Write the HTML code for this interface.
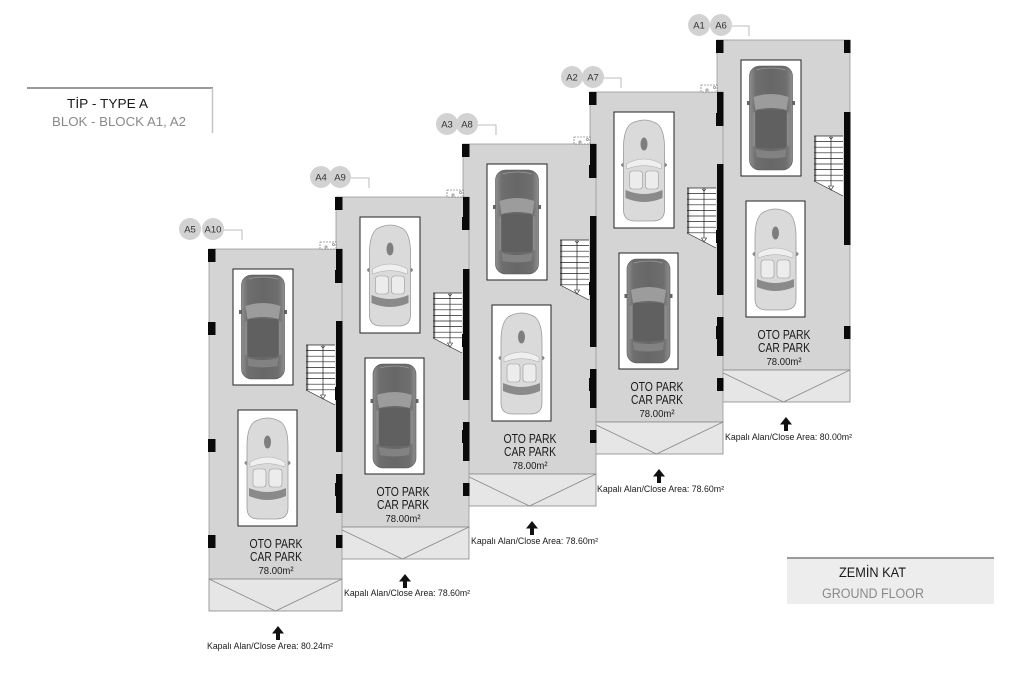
<!DOCTYPE html>
<html>
<head>
<meta charset="utf-8">
<style>
html,body{margin:0;padding:0;background:#fff;}
body{width:1024px;height:684px;overflow:hidden;}
svg{display:block;font-family:"Liberation Sans","DejaVu Sans",sans-serif;}
</style>
</head>
<body>
<svg width="1024" height="684" viewBox="0 0 1024 684" xmlns="http://www.w3.org/2000/svg">
<defs>
  <linearGradient id="sg" x1="0" x2="1" y1="0" y2="0">
    <stop offset="0" stop-color="#8e8e8e"/>
    <stop offset="0.15" stop-color="#6e6e6e"/>
    <stop offset="0.5" stop-color="#676767"/>
    <stop offset="0.85" stop-color="#6e6e6e"/>
    <stop offset="1" stop-color="#8e8e8e"/>
  </linearGradient>
  <g id="sedan">
    <rect x="-1.5" y="35" width="3" height="4" fill="#666"/>
    <rect x="43.5" y="35" width="3" height="4" fill="#666"/>
    <rect x="1" y="0" width="43" height="104" rx="10" fill="url(#sg)" stroke="#555" stroke-width=".6"/>
    <path d="M5,31 Q22.5,25 40,31 L38,44 Q22.5,40 7,44 Z" fill="#9c9c9c"/>
    <rect x="7" y="44" width="31" height="38" rx="3" fill="#606060"/>
    <path d="M4,47 L6.5,46 L6.5,80 L4,80 Z" fill="#8a8a8a"/>
    <path d="M41,47 L38.5,46 L38.5,80 L41,80 Z" fill="#8a8a8a"/>
    <path d="M7,83 Q22.5,87 38,83 L37,91 Q22.5,94 8,91 Z" fill="#828282"/>
    <path d="M8,4 Q22.5,0 37,4" stroke="#999" stroke-width=".8" fill="none"/>
  </g>
  <g id="conv">
    <ellipse cx="1" cy="47" rx="2.5" ry="2" fill="#888"/>
    <ellipse cx="42" cy="47" rx="2.5" ry="2" fill="#888"/>
    <path d="M8,6 Q21.5,-2 35,6 Q42,12 42,30 L42,92 Q42,103 30,103 L13,103 Q1,103 1,92 L1,30 Q1,12 8,6Z" fill="#dadada" stroke="#9a9a9a" stroke-width=".8"/>
    <ellipse cx="21.5" cy="26" rx="3.5" ry="6.5" fill="#7e7e7e"/>
    <path d="M4,46 Q21.5,36 39,46 L39,51 Q21.5,44 4,51Z" fill="#efefef" stroke="#aaa" stroke-width=".5"/>
    <rect x="7" y="53" width="13" height="18" rx="3" fill="#ececec" stroke="#999" stroke-width=".6"/>
    <rect x="23" y="53" width="13" height="18" rx="3" fill="#ececec" stroke="#999" stroke-width=".6"/>
    <path d="M3,72 Q21.5,80 40,72 L40,80 Q21.5,88 3,80Z" fill="#8a8a8a"/>
  </g>
  <g id="stair">
    <polygon points="97,96 126,96 126,156 97,141" fill="#fff"/>
    <rect x="97" y="96" width="2.2" height="45" fill="#777"/>
    <path d="M97,96H126M97,101.6H126M97,107.2H126M97,112.8H126M97,118.4H126M97,124H126M97,129.6H126M97,135.2H126M97,140.8H126" stroke="#222" stroke-width=".7" fill="none"/>
    <line x1="97" y1="141" x2="126" y2="156" stroke="#222" stroke-width=".7"/>
    <line x1="114" y1="96" x2="114" y2="147" stroke="#222" stroke-width=".7"/>
    <polygon points="111.5,146 116.5,146 114,150" fill="#fff" stroke="#222" stroke-width=".6"/>
    <path d="M112,97 l2,2 l2,-2" stroke="#222" fill="none" stroke-width=".6"/>
  </g>
  <g id="walls" fill="#0a0a0a">
    <rect x="-1" y="0" width="7.5" height="13"/>
    <rect x="-1" y="73" width="7.5" height="13"/>
    <rect x="-1" y="190" width="7.5" height="13"/>
    <rect x="-1" y="286" width="7.5" height="13"/>
  </g>
  <g id="rwall" fill="#0a0a0a">
    <rect x="127" y="0" width="6.5" height="28"/>
    <rect x="127" y="72" width="6.5" height="131"/>
    <rect x="127" y="225" width="6.5" height="39"/>
    <rect x="127" y="286" width="6.5" height="13"/>
  </g>
  <g id="rwall5" fill="#0a0a0a">
    <rect x="127" y="0" width="6.5" height="13"/>
    <rect x="127" y="72" width="6.5" height="133"/>
    <rect x="127" y="286" width="6.5" height="13"/>
  </g>
  <g id="fill">
    <rect x="0" y="0" width="133" height="330" fill="#d4d4d4" stroke="#999" stroke-width=".8"/>
    <rect x="0" y="330" width="133" height="32" fill="#e6e6e6" stroke="#888" stroke-width=".8"/>
    <polyline points="0,330 66.5,362 133,330" fill="none" stroke="#888" stroke-width=".8"/>
  </g>
  <g id="txt" fill="#1a1a1a" text-anchor="middle">
    <text x="67" y="299" font-size="12.5" textLength="53" lengthAdjust="spacingAndGlyphs">OTO PARK</text>
    <text x="67" y="312" font-size="12.5" textLength="52" lengthAdjust="spacingAndGlyphs">CAR PARK</text>
    <text x="67" y="325" font-size="10.5" textLength="35" lengthAdjust="spacingAndGlyphs">78.00m²</text>
  </g>
  <polygon id="arrow" points="69,377 75,384.5 71,384.5 71,391 67,391 67,384.5 63,384.5" fill="#111"/>
  <g id="door">
    <rect x="111" y="-7" width="16" height="7" fill="#fff" stroke="#555" stroke-width=".6" stroke-dasharray="2,1"/>
    <circle cx="124.5" cy="-4.5" r="1.2" fill="none" stroke="#555" stroke-width=".5"/>
    <rect x="116" y="-3" width="2" height="2" fill="none" stroke="#555" stroke-width=".5"/>
  </g>
</defs>

<!-- Title box -->
<line x1="27" y1="88" x2="213" y2="88" stroke="#9a9a9a" stroke-width="2"/>
<line x1="212.5" y1="88" x2="212.5" y2="133" stroke="#c4c4c4" stroke-width="1.5"/>
<text x="67" y="108" font-size="13" fill="#1a1a1a" textLength="81" lengthAdjust="spacingAndGlyphs">TİP - TYPE A</text>
<text x="52" y="126" font-size="13" fill="#8a8a8a" textLength="134" lengthAdjust="spacingAndGlyphs">BLOK - BLOCK A1, A2</text>

<!-- Ground floor box -->
<rect x="787" y="557" width="207" height="47" fill="#ededed"/>
<line x1="787" y1="558" x2="994" y2="558" stroke="#9a9a9a" stroke-width="2"/>
<text x="839" y="577" font-size="13.5" fill="#1a1a1a" textLength="67" lengthAdjust="spacingAndGlyphs">ZEMİN KAT</text>
<text x="822" y="598" font-size="13.5" fill="#8a8a8a" textLength="102" lengthAdjust="spacingAndGlyphs">GROUND FLOOR</text>

<!-- Pass 1: fills (reverse order) -->
<use href="#fill" transform="translate(717,40)"/>
<use href="#fill" transform="translate(590,92)"/>
<use href="#fill" transform="translate(463,144)"/>
<use href="#fill" transform="translate(336,197)"/>
<use href="#fill" transform="translate(209,249)"/>

<!-- Unit 1 -->
<g transform="translate(209,249)">
  <rect x="24" y="20" width="60" height="116" fill="#fff" stroke="#222"/>
  <use href="#sedan" x="31.5" y="26"/>
  <rect x="29" y="161" width="59" height="116" fill="#fff" stroke="#222"/>
  <use href="#conv" x="37" y="167"/>
  <use href="#stair"/>
  <use href="#walls"/>
  <use href="#rwall"/>
  <use href="#txt"/>
  <use href="#arrow"/>
  <use href="#door"/>
</g>
<!-- Unit 2 -->
<g transform="translate(336,197)">
  <rect x="24" y="20" width="60" height="116" fill="#fff" stroke="#222"/>
  <use href="#conv" x="32.5" y="26"/>
  <rect x="29" y="161" width="59" height="116" fill="#fff" stroke="#222"/>
  <use href="#sedan" x="36" y="167"/>
  <use href="#stair"/>
  <use href="#walls"/>
  <use href="#rwall"/>
  <use href="#txt"/>
  <use href="#arrow"/>
  <use href="#door"/>
</g>
<!-- Unit 3 -->
<g transform="translate(463,144)">
  <rect x="24" y="20" width="60" height="116" fill="#fff" stroke="#222"/>
  <use href="#sedan" x="31.5" y="26"/>
  <rect x="29" y="161" width="59" height="116" fill="#fff" stroke="#222"/>
  <use href="#conv" x="37" y="167"/>
  <use href="#stair"/>
  <use href="#walls"/>
  <use href="#rwall"/>
  <use href="#txt"/>
  <use href="#arrow"/>
  <use href="#door"/>
</g>
<!-- Unit 4 -->
<g transform="translate(590,92)">
  <rect x="24" y="20" width="60" height="116" fill="#fff" stroke="#222"/>
  <use href="#conv" x="32.5" y="26"/>
  <rect x="29" y="161" width="59" height="116" fill="#fff" stroke="#222"/>
  <use href="#sedan" x="36" y="167"/>
  <use href="#stair"/>
  <use href="#walls"/>
  <use href="#rwall"/>
  <use href="#txt"/>
  <use href="#arrow"/>
  <use href="#door"/>
</g>
<!-- Unit 5 -->
<g transform="translate(717,40)">
  <rect x="24" y="20" width="60" height="116" fill="#fff" stroke="#222"/>
  <use href="#sedan" x="31.5" y="26"/>
  <rect x="29" y="161" width="59" height="116" fill="#fff" stroke="#222"/>
  <use href="#conv" x="37" y="167"/>
  <use href="#stair"/>
  <use href="#walls"/>
  <use href="#rwall5"/>
  <use href="#txt"/>
  <use href="#arrow"/>
</g>

<!-- Area labels -->
<g font-size="9" fill="#1a1a1a">
  <text x="207" y="649" textLength="126" lengthAdjust="spacingAndGlyphs">Kapalı Alan/Close Area: 80.24m²</text>
  <text x="344" y="596" textLength="126" lengthAdjust="spacingAndGlyphs">Kapalı Alan/Close Area: 78.60m²</text>
  <text x="471" y="544" textLength="127" lengthAdjust="spacingAndGlyphs">Kapalı Alan/Close Area: 78.60m²</text>
  <text x="597" y="492" textLength="127" lengthAdjust="spacingAndGlyphs">Kapalı Alan/Close Area: 78.60m²</text>
  <text x="725" y="440" textLength="127" lengthAdjust="spacingAndGlyphs">Kapalı Alan/Close Area: 80.00m²</text>
</g>

<!-- Unit tags -->
<g stroke="#aaa" stroke-width=".8" fill="none">
  <path d="M224,230 H242 V240"/>
  <path d="M351,178 H369 V188"/>
  <path d="M478,125 H496 V135"/>
  <path d="M604,78 H621 V88"/>
  <path d="M732,26 H749 V36"/>
</g>
<g fill="#d2d2d2">
  <circle cx="190" cy="229" r="11"/><circle cx="213" cy="229" r="11"/>
  <circle cx="321" cy="177" r="11"/><circle cx="340" cy="177" r="11"/>
  <circle cx="447" cy="124" r="11"/><circle cx="467" cy="124" r="11"/>
  <circle cx="572" cy="77" r="11"/><circle cx="593" cy="77" r="11"/>
  <circle cx="699" cy="25" r="11"/><circle cx="721" cy="25" r="11"/>
</g>
<g font-size="9.5" fill="#333" text-anchor="middle">
  <text x="190" y="232.5">A5</text><text x="213" y="232.5">A10</text>
  <text x="321" y="180.5">A4</text><text x="340" y="180.5">A9</text>
  <text x="447" y="127.5">A3</text><text x="467" y="127.5">A8</text>
  <text x="572" y="80.5">A2</text><text x="593" y="80.5">A7</text>
  <text x="699" y="28.5">A1</text><text x="721" y="28.5">A6</text>
</g>
</svg>
</body>
</html>
